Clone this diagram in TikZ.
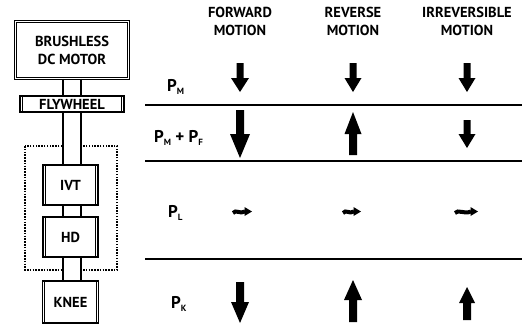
\documentclass[tikz,border=0pt]{standalone}
\usepackage{fontspec}
\setmainfont{PT Sans}
\usetikzlibrary{arrows.meta,calc}
\newcommand\blockarrow[6]{% x, tail y, head-base y, tip y, shaft half width, head half width
  \fill (#1-#5,#2) -- (#1+#5,#2) -- (#1+#5,#3) -- (#1+#6,#3) -- (#1,#4) -- (#1-#6,#3) -- (#1-#5,#3) -- cycle;}
\newcommand\wavearrow[4]{% start x, y, shaft end x, tip x
  \draw[line width=4pt] (#1,#2+1.5) .. controls (#1+3,#2-2.5) and ($(#1,#2)!0.55!(#3,#2)+(0,3)$) .. (#3,#2);
  \fill (#3-0.5,#2-4.5) -- (#4,#2) -- (#3-0.5,#2+4.5) -- cycle;}
\newcommand\sidelines[1]{%
  \draw[line width=1pt] ([xshift=3pt]#1.north west) -- ([xshift=3pt]#1.south west);
  \draw[line width=1pt] ([xshift=-3pt]#1.north east) -- ([xshift=-3pt]#1.south east);}
\begin{document}
\begin{tikzpicture}[x=1pt,y=-1pt,
  font=\bfseries\fontsize{14.5}{18}\selectfont,
  motorbox/.style={draw, double, double distance=1.8pt, line width=0.9pt, minimum width=113pt, minimum height=57pt, align=center, inner sep=0pt},
  sidebox/.style={draw, line width=1.4pt, inner sep=0pt, align=center},
  shaft/.style={line width=1.2pt},
  rule/.style={line width=1.8pt},
  head/.style={align=center},
  plabel/.style={anchor=west, inner sep=0pt, font=\bfseries\fontsize{17}{18}\selectfont}
  ]
\useasboundingbox (0,0) rectangle (522,327);
\newcommand\sub[1]{\raisebox{-2.5pt}{\fontsize{9}{9}\selectfont #1}}

% left column
\node[motorbox] (motor) at (72,50) {BRUSHLESS\\DC MOTOR};
\node[sidebox, minimum width=104pt, minimum height=16pt] (fly) at (72,104) {FLYWHEEL};
\node[sidebox, minimum width=55pt, minimum height=40pt] (ivt) at (70.5,185) {IVT};
\node[sidebox, minimum width=55pt, minimum height=40pt] (hd) at (70.5,237) {HD};
\node[sidebox, minimum width=56pt, minimum height=42pt] (knee) at (70.5,302) {KNEE};
\sidelines{fly}\sidelines{ivt}\sidelines{hd}\sidelines{knee}

\draw[line width=1.6pt, dash pattern=on 1.5pt off 1.3pt] (25,146) rectangle (117,270);
\fill[white] (64,140) rectangle (80,152);
\fill[white] (64,264) rectangle (80,276);

\foreach \dx in {-9,9}{
  \draw[shaft] ([xshift=\dx pt]motor.south -| 72,0) -- ([xshift=\dx pt]fly.north -| 72,0);
  \draw[shaft] ([xshift=\dx pt]fly.south -| 72,0) -- ([xshift=\dx pt]ivt.north -| 72,0);
  \draw[shaft] ([xshift=\dx pt]ivt.south -| 72,0) -- ([xshift=\dx pt]hd.north -| 72,0);
  \draw[shaft] ([xshift=\dx pt]hd.south -| 72,0) -- ([xshift=\dx pt]knee.north -| 72,0);
}

% headers
\node[head] (hf) at (240,21) {FORWARD\\MOTION};
\node[head] (hr) at (353,21) {REVERSE\\MOTION};
\node[head] (hi) at (467,21) {IRREVERSIBLE\\MOTION};

% rules
\draw[rule] (145,105) -- (522,105);
\draw[rule] (145,161) -- (522,161);
\draw[rule] (145,259) -- (522,259);

% row labels
\node[plabel] (pm) at (167,87) {P\sub{M}};
\node[plabel] (pmf) at (154,138) {P\sub{M} + P\sub{F}};
\node[plabel] (pl) at (168,213) {P\sub{L}};
\node[plabel] (pk) at (171,304) {P\sub{K}};

% row 1
\blockarrow{240}{63}{78}{92}{3.5}{9}
\blockarrow{353}{63}{78}{92}{3.5}{8.5}
\blockarrow{467}{63}{78}{92}{3.5}{8.5}
% row 2
\blockarrow{240}{110}{134}{158}{4}{10}
\blockarrow{353}{155}{134}{112}{4}{8.5}
\blockarrow{467}{120}{134}{148}{3.5}{8.5}
% row 3
\wavearrow{233}{211.5}{245}{252}
\wavearrow{343}{211.5}{354}{361}
\wavearrow{455}{211.5}{471}{478}
% row 4
\blockarrow{240}{282}{302}{323}{4}{9}
\blockarrow{353}{322}{300}{280}{4}{9}
\blockarrow{467}{320}{303}{287}{4}{8}
\end{tikzpicture}
\end{document}
